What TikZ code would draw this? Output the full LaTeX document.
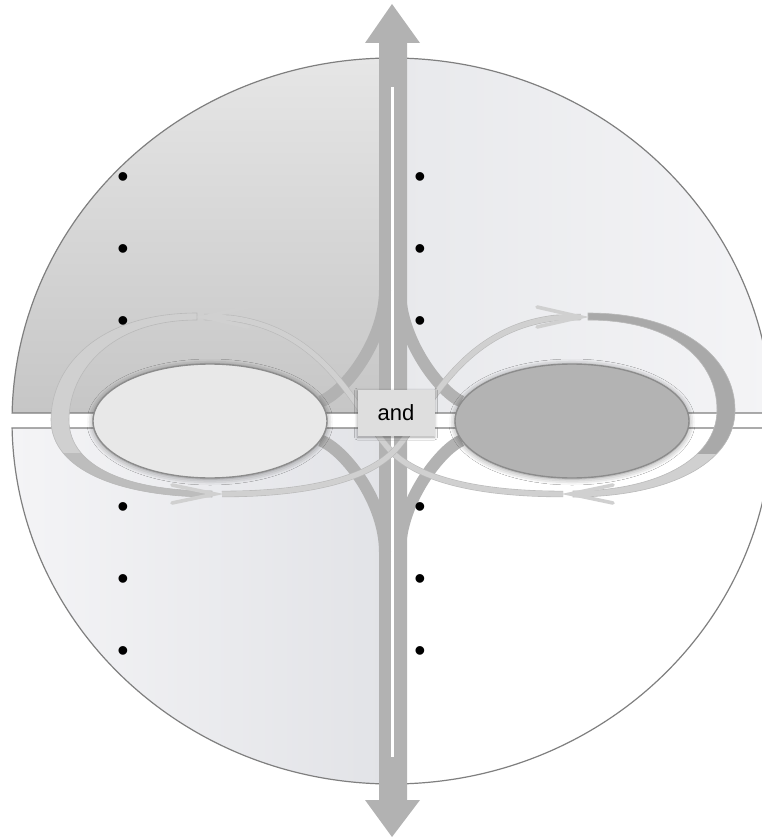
\documentclass[tikz,border=0pt]{standalone}
\usepackage{fontspec}
\setmainfont{Liberation Sans}
\usepackage{xcolor}
\usepackage{tikz}
\usetikzlibrary{shapes.geometric,shadows.blur}
\definecolor{tlTop}{HTML}{E6E6E6}
\definecolor{tlBot}{HTML}{C6C6C6}
\definecolor{trLeft}{HTML}{E8E9EC}
\definecolor{trRight}{HTML}{F4F4F6}
\definecolor{blLeft}{HTML}{F4F4F6}
\definecolor{blRight}{HTML}{E2E3E7}
\definecolor{quadline}{HTML}{7F7F7F}
\definecolor{shaftgray}{HTML}{B2B2B2}
\definecolor{loopgray}{HTML}{D0D0D0}
\definecolor{loopmid}{HTML}{BDBDBD}
\definecolor{loopdark}{HTML}{A9A9A9}
\definecolor{loopedge}{HTML}{BABABA}
\definecolor{lensLight}{HTML}{E8E8E8}
\definecolor{lensDark}{HTML}{B3B3B3}
\definecolor{lensline}{HTML}{8C8C8C}
\definecolor{boxgray}{HTML}{DEDEDE}
\pgfdeclarelayer{background}
\pgfsetlayers{background,main}
\tikzset{
  quad/.style={draw=quadline, line width=0.6pt},
  lens/.style={draw=lensline, line width=0.7pt, ellipse, minimum width=117pt,
               minimum height=57pt, inner sep=0pt,
               blur shadow={shadow xshift=0pt, shadow yshift=-0.5pt,
                            shadow blur radius=3pt, shadow opacity=45}},
  andbox/.style={fill=boxgray, minimum width=38.5pt, minimum height=23pt,
                 inner sep=0pt, font=\fontsize{11}{13}\selectfont,
                 blur shadow={shadow xshift=0pt, shadow yshift=-0.5pt,
                              shadow blur radius=1.5pt, shadow opacity=35}},
  shaft/.style={fill=shaftgray},
  branch/.style={draw=shaftgray, line width=6pt},
  crossband/.style={draw=loopgray, line width=2.6pt,
                    preaction={draw=loopedge, line width=3.2pt}},
  chevron/.style={draw=loopgray, line width=1.8pt, line cap=round},
  dotmark/.style={font=\fontsize{16}{18}\selectfont, inner sep=0pt, yshift=-1.3pt},
}
\newcommand{\leftcrescent}{(197,313) .. controls (100,313) and (51,365) .. (51,420)
  .. controls (51,470) and (120,497) .. (212,497) -- (212,491)
  .. controls (130,491) and (69,468) .. (69,420)
  .. controls (69,372) and (110,320) .. (197,320) -- cycle}
\newcommand{\rightcrescent}{(588,313) .. controls (685,313) and (735,360) .. (735,410)
  .. controls (735,465) and (665,497) .. (573,497) -- (573,491)
  .. controls (655,491) and (717,460) .. (717,410)
  .. controls (717,362) and (675,320) .. (588,320) -- cycle}
\begin{document}
\begin{tikzpicture}[x=0.5pt, y=-0.5pt]
    \useasboundingbox (0,0) rectangle (761,839);
    \node[lens, fill=lensLight] (leftlens)  at (210,421) {};
    \node[lens, fill=lensDark]  (rightlens) at (572,421) {};
    \node[andbox] (conj) at (396,413) {and};
    \foreach \y in {177,249,321,507,579,651} {
      \node[dotmark] (dl\y) at (123,\y) {\textbullet};
      \node[dotmark] (dr\y) at (420,\y) {\textbullet};
    }
    \begin{pgfonlayer}{background}
    \path[quad, top color=tlTop, bottom color=tlBot] (385,413)
      -- ([shift={(181.26:380 and 363)}]392,421)
      arc[start angle=181.26, end angle=268.94, x radius=380, y radius=363] -- cycle;
    \path[quad, left color=trLeft, right color=trRight] (399,413)
      -- ([shift={(271.06:380 and 363)}]392,421)
      arc[start angle=271.06, end angle=358.74, x radius=380, y radius=363] -- cycle;
    \path[quad, left color=blLeft, right color=blRight] (385,428)
      -- ([shift={(91.06:380 and 363)}]392,421)
      arc[start angle=91.06, end angle=178.9, x radius=380, y radius=363] -- cycle;
    \path[quad, fill=white] (399,428)
      -- ([shift={(1.1:380 and 363)}]392,421)
      arc[start angle=1.1, end angle=88.94, x radius=380, y radius=363] -- cycle;
    \fill[loopgray] \leftcrescent;
    \begin{scope}
      \clip (0,453) rectangle (761,839);
      \fill[loopmid] \leftcrescent;
    \end{scope}
    \draw[loopedge, line width=0.3pt] \leftcrescent;
    \fill[loopgray] \rightcrescent;
    \begin{scope}
      \clip (0,0) rectangle (761,453);
      \fill[loopdark] \rightcrescent;
    \end{scope}
    \draw[loopedge, line width=0.3pt] \rightcrescent;
    \path[shaft] (392,4) -- (420,43) -- (407,43) -- (407,400) -- (379,400)
      -- (379,43) -- (365,43) -- cycle;
    \path[shaft] (392,837) -- (420,800) -- (407,800) -- (407,430) -- (379,430)
      -- (379,800) -- (365,800) -- cycle;
    \draw[white, line width=1.5pt] (392,87) -- (392,400) (392,430) -- (392,757);
    \draw[branch] (385,290) .. controls (385,340) and (345,392) .. (leftlens.10);
    \draw[branch] (400,290) .. controls (400,340) and (440,392) .. (rightlens.170);
    \draw[branch] (385,552) .. controls (385,502) and (345,450) .. (leftlens.-10);
    \draw[branch] (400,552) .. controls (400,502) and (440,450) .. (rightlens.190);
    \draw[crossband] (563,494) .. controls (480,494) and (420,480) .. (392,452)
      .. controls (360,420) and (330,330) .. (230,318) -- (204,317);
    \draw[crossband] (222,494) .. controls (305,494) and (365,480) .. (393,452)
      .. controls (425,420) and (455,330) .. (555,318) -- (581,317);
    \draw[chevron] (248,307) -- (204,317) -- (248,327);
    \draw[chevron] (537,307) -- (581,317) -- (537,327);
    \draw[chevron] (172,485) -- (215,494) -- (172,503);
    \draw[chevron] (613,485) -- (570,494) -- (613,503);
    \end{pgfonlayer}
\end{tikzpicture}
\end{document}
